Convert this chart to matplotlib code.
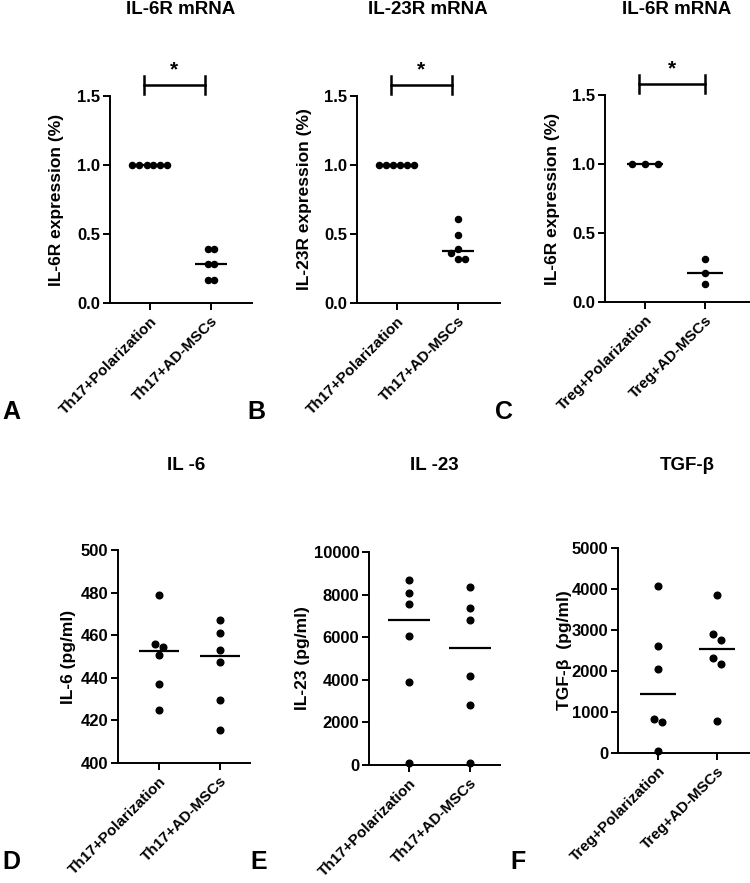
import numpy as np
import matplotlib
matplotlib.use("Agg")
import matplotlib.pyplot as plt

plt.rcParams['font.family'] = ['Liberation Sans', 'DejaVu Sans']
plt.rcParams['font.weight'] = 'bold'

# ---- data ----
th17_groups = ["Th17+Polarization", "Th17+AD-MSCs"]
treg_groups = ["Treg+Polarization", "Treg+AD-MSCs"]

il6r_th17_pol = [1.0, 1.0, 1.0, 1.0, 1.0, 1.0]
il6r_th17_msc = [0.39, 0.39, 0.28, 0.28, 0.17, 0.17]

il23r_th17_pol = [1.0, 1.0, 1.0, 1.0, 1.0, 1.0]
il23r_th17_msc = [0.61, 0.49, 0.39, 0.36, 0.32, 0.32]

il6r_treg_pol = [1.0, 1.0, 1.0]
il6r_treg_msc = [0.31, 0.21, 0.13]

il6_pol = [479.1, 455.9, 454.4, 450.5, 437.0, 425.0]
il6_msc = [467.3, 461.2, 453.1, 447.5, 429.4, 415.6]

il23_pol = [8670, 8080, 7580, 6050, 3880, 80]
il23_msc = [8360, 7390, 6800, 4190, 2800, 80]

tgfb_pol = [4070, 2620, 2050, 840, 750, 60]
tgfb_msc = [3850, 2910, 2750, 2310, 2160, 790]

titles = ["IL-6R mRNA", "IL-23R mRNA", "IL-6R mRNA", "IL -6", "IL -23", "TGF-β"]
ylabels = ["IL-6R expression (%)", "IL-23R expression (%)", "IL-6R expression (%)",
           "IL-6 (pg/ml)", "IL-23 (pg/ml)", "TGF-β  (pg/ml)"]
letters = ["A", "B", "C", "D", "E", "F"]
yticks = [[0, 0.5, 1.0, 1.5]] * 3 + [[400, 420, 440, 460, 480, 500],
                                     [0, 2000, 4000, 6000, 8000, 10000],
                                     [0, 1000, 2000, 3000, 4000, 5000]]

panels = [
    (th17_groups, il6r_th17_pol, il6r_th17_msc),
    (th17_groups, il23r_th17_pol, il23r_th17_msc),
    (treg_groups, il6r_treg_pol, il6r_treg_msc),
    (th17_groups, il6_pol, il6_msc),
    (th17_groups, il23_pol, il23_msc),
    (treg_groups, tgfb_pol, tgfb_msc),
]
significant = [True, True, True, False, False, False]

W, H = 750, 883
fig = plt.figure(figsize=(W / 100, H / 100), dpi=100)

# axes boxes in pixels: left, top, right, bottom
boxes = [(110, 96, 252, 303), (357, 96, 500, 303), (605, 95, 750, 302),
         (118, 550, 250, 763), (369, 552, 500, 765), (618, 548, 750, 753)]
tick_px = [(150, 211), (397, 458), (645, 705), (159, 220), (409, 470), (658, 717)]
ylab_px = [53, 52, 52, 50, 66, 53]
title_px = [(181, 10), (428, 10), (677, 10), (186, 466), (434, 466), (687, 466)]
letter_px = [(11, 412), (256, 412), (504, 412), (11, 862), (259, 862), (518, 862)]
spacing_px = [7.0, 7.0, 13.0, 7.5, 7.5, 8.0]
msize = [4.4, 4.4, 4.4, 4.8, 4.8, 4.8]
half_line = [0.27, 0.27, 0.3, 0.32, 0.35, 0.3]
collide_px = 7.0


def swarm_offsets(ax, xc, ys, d, gap):
    """Prism-like rows: points closer than gap px vertically share a centred row."""
    ys = np.asarray(ys, float)
    ypx = ax.transData.transform(np.column_stack([np.full(len(ys), xc), ys]))[:, 1]
    order = np.argsort(ypx)
    rows, cur = [], [order[0]]
    for i in order[1:]:
        if ypx[i] - ypx[cur[0]] < gap:
            cur.append(i)
        else:
            rows.append(cur)
            cur = [i]
    rows.append(cur)
    xpx0 = ax.transData.transform((xc, 0))[0]
    xs = np.zeros(len(ys))
    for r in rows:
        r = sorted(r, key=lambda i: -ypx[i])
        n = len(r)
        for k, i in enumerate(r):
            xpix = xpx0 + (k - (n - 1) / 2) * d
            xs[i] = ax.transData.inverted().transform((xpix, ypx[i]))[0]
    return xs


for p, (groups, g1, g2) in enumerate(panels):
    l, t, r, b = boxes[p]
    ax = fig.add_axes([l / W, 1 - b / H, (r - l) / W, (b - t) / H])
    t0, t1 = tick_px[p]
    unit = t1 - t0
    ax.set_xlim(-(t0 - l) / unit, 1 + (r - t1) / unit)
    yt = yticks[p]
    ax.set_ylim(yt[0], yt[-1])
    ax.set_yticks(yt)
    if p < 3:
        ax.set_yticklabels(["%.1f" % v for v in yt])
    ax.set_xticks([0, 1])
    ax.set_xticklabels(groups, rotation=45, ha='right', rotation_mode='anchor',
                       fontsize=11, fontweight='bold')
    for s in ['top', 'right']:
        ax.spines[s].set_visible(False)
    for s in ['left', 'bottom']:
        ax.spines[s].set_linewidth(1.4)
    ax.tick_params(axis='y', width=1.4, length=5, labelsize=12, pad=2)
    ax.tick_params(axis='x', width=1.4, length=5, pad=3)
    for lab in ax.get_yticklabels():
        lab.set_fontweight('bold')
    ax.set_ylabel(ylabels[p], fontsize=12.5, fontweight='bold', va='center')
    ax.yaxis.set_label_coords(-ylab_px[p] / (r - l), 0.5)

    for xc, vals in enumerate([g1, g2]):
        med = np.median(vals)
        ax.hlines(med, xc - half_line[p], xc + half_line[p], color='black', lw=1.6, zorder=2)
        xs = swarm_offsets(ax, xc, vals, spacing_px[p], collide_px)
        ax.plot(xs, vals, 'o', color='black', ms=msize[p], zorder=3, clip_on=False)

    if significant[p]:
        x0, x1 = -0.1, (1.0 if p == 2 else 0.9)
        ytop = yt[-1]
        yb = ytop + 0.08
        ax.plot([x0, x1], [yb, yb], color='black', lw=1.8, clip_on=False)
        for xe in (x0, x1):
            ax.plot([xe, xe], [yb - 0.065, yb + 0.065], color='black', lw=1.8, clip_on=False)
        ax.text((x0 + x1) / 2, yb + 0.04, "*", ha='center', va='bottom',
                fontsize=15, fontweight='bold')

for p in range(6):
    tx, ty = title_px[p]
    fig.text(tx / W, 1 - ty / H, titles[p], ha='center', va='center',
             fontsize=13.5, fontweight='bold')
    lx, ly = letter_px[p]
    fig.text(lx / W, 1 - ly / H, letters[p], ha='center', va='center',
             fontsize=18, fontweight='bold')

fig.savefig("out.png", dpi=100)
